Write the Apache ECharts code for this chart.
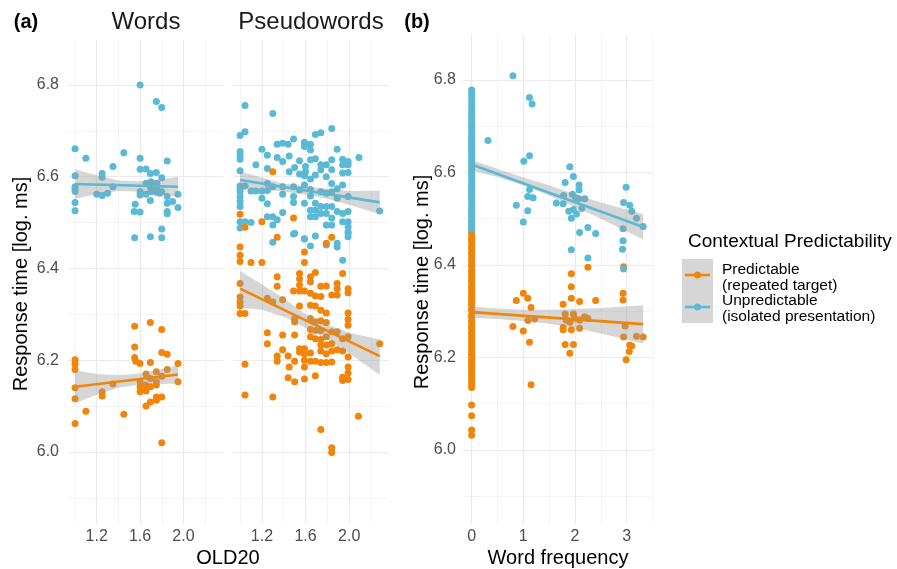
<!DOCTYPE html>
<html>
<head>
<meta charset="utf-8">
<script src="https://cdn.jsdelivr.net/npm/echarts@6/dist/echarts.min.js"></script>
<style>
html,body{margin:0;padding:0;background:#fff;}
#chart{width:897px;height:569px;}
</style>
</head>
<body>
<div id="chart"></div>
<script>
// ---------- DATA ----------
// Panel (a) Words: [OLD20, log RT]
const wordsPredictable = [[1.55,6.274],[1.695,6.282],[1.8,6.267],[1.55,6.229],[1.8,6.217],[1.85,6.213],[1.55,6.206],[1.56,6.198],[1.6,6.193],[1.695,6.195],[1.0,6.201],[1.0,6.191],[1.0,6.180],[1.95,6.193],[1.85,6.180],[1.75,6.175],[1.655,6.170],[1.695,6.160],[1.6,6.153],[1.6,6.142],[1.65,6.146],[1.0,6.140],[1.35,6.148],[1.25,6.131],[1.25,6.122],[1.95,6.153],[1.6,6.131],[1.655,6.133],[1.695,6.142],[1.75,6.146],[1.75,6.153],[1.8,6.165],[1.0,6.116],[1.10,6.089],[1.45,6.082],[1.655,6.100],[1.695,6.109],[1.75,6.113],[1.8,6.12],[1.75,6.12],[1.0,6.062],[1.8,6.020]];
const wordsUnpredictable = [[1.6,6.80],[1.75,6.764],[1.80,6.751],[1.0,6.661],[1.10,6.640],[1.45,6.652],[1.6,6.640],[1.85,6.634],[1.35,6.622],[1.6,6.616],[1.655,6.617],[1.695,6.607],[1.75,6.609],[1.0,6.602],[1.25,6.607],[1.25,6.599],[1.8,6.598],[1.0,6.578],[1.0,6.573],[1.0,6.568],[1.35,6.578],[1.2,6.562],[1.25,6.559],[1.3,6.564],[1.6,6.567],[1.6,6.560],[1.655,6.562],[1.695,6.578],[1.70,6.567],[1.75,6.566],[1.755,6.573],[1.78,6.564],[1.8,6.567],[1.85,6.557],[1.85,6.542],[1.9,6.546],[1.95,6.562],[1.95,6.533],[1.0,6.544],[1.0,6.526],[1.555,6.54],[1.545,6.524],[1.6,6.523],[1.695,6.548],[1.85,6.524],[1.85,6.519],[1.8,6.486],[1.55,6.467],[1.695,6.469],[1.8,6.467],[1.655,6.586],[1.70,6.589],[1.755,6.586],[1.72,6.575]];
// Panel (a) Pseudowords
const pseudoPredictable = [[1.30,6.611],[1.0,6.518],[1.2,6.502],[1.49,6.51],[1.045,6.49],[1.34,6.468],[1.84,6.468],[1.79,6.455],[1.0,6.447],[1.0,6.429],[1.0,6.415],[1.1,6.413],[1.2,6.413],[1.59,6.436],[1.59,6.413],[1.34,6.382],[1.34,6.361],[1.545,6.389],[1.545,6.377],[1.545,6.364],[1.645,6.382],[1.645,6.371],[1.69,6.391],[1.94,6.389],[1.89,6.367],[1.89,6.356],[1.0,6.367],[1.0,6.338],[1.0,6.327],[1.0,6.318],[1.0,6.302],[1.045,6.302],[1.49,6.351],[1.545,6.351],[1.59,6.351],[1.645,6.346],[1.69,6.340],[1.74,6.361],[1.79,6.362],[1.74,6.339],[1.84,6.342],[1.89,6.342],[1.99,6.356],[1.99,6.347],[1.25,6.335],[1.3,6.327],[1.39,6.332],[1.545,6.318],[1.645,6.32],[1.69,6.318],[1.74,6.309],[1.79,6.303],[1.99,6.303],[1.99,6.289],[1.99,6.276],[1.5,6.291],[1.5,6.284],[1.645,6.291],[1.69,6.284],[1.74,6.286],[1.79,6.282],[1.645,6.267],[1.69,6.265],[1.74,6.265],[1.25,6.26],[1.25,6.236],[1.39,6.255],[1.5,6.255],[1.645,6.251],[1.69,6.247],[1.74,6.245],[1.79,6.251],[1.84,6.262],[1.89,6.262],[1.94,6.247],[1.99,6.251],[1.74,6.233],[1.79,6.233],[1.84,6.236],[1.39,6.223],[1.545,6.225],[1.59,6.225],[1.545,6.218],[1.59,6.214],[1.645,6.216],[1.74,6.22],[1.79,6.214],[1.84,6.22],[1.89,6.223],[1.94,6.22],[1.34,6.209],[1.34,6.198],[1.44,6.209],[1.5,6.198],[1.59,6.2],[1.645,6.198],[1.69,6.198],[1.74,6.195],[1.79,6.195],[1.84,6.196],[1.99,6.207],[2.28,6.236],[1.045,6.191],[1.45,6.185],[1.59,6.185],[1.99,6.185],[1.99,6.172],[1.94,6.163],[1.99,6.158],[1.94,6.156],[1.44,6.162],[1.5,6.153],[1.59,6.159],[1.69,6.166],[1.045,6.124],[1.3,6.12],[2.085,6.078],[1.74,6.049],[1.84,6.009],[1.84,5.999]];
const pseudoUnpredictable = [[1.045,6.755],[1.30,6.738],[1.0,6.69],[1.045,6.698],[1.0,6.655],[1.0,6.646],[1.0,6.638],[1.0,6.613],[1.84,6.705],[1.69,6.692],[1.74,6.696],[1.34,6.671],[1.39,6.673],[1.44,6.671],[1.49,6.682],[1.59,6.675],[1.645,6.671],[1.59,6.666],[1.645,6.658],[1.2,6.66],[1.25,6.647],[1.45,6.645],[1.34,6.642],[1.39,6.633],[1.545,6.635],[1.645,6.637],[1.69,6.639],[1.89,6.66],[1.84,6.637],[1.94,6.638],[1.99,6.633],[1.99,6.626],[1.94,6.626],[2.09,6.642],[1.145,6.626],[1.25,6.618],[1.5,6.62],[1.45,6.611],[1.6,6.622],[1.6,6.611],[1.74,6.626],[1.79,6.626],[1.74,6.615],[1.84,6.615],[1.79,6.60],[1.94,6.608],[1.99,6.609],[1.545,6.606],[1.59,6.602],[1.645,6.595],[1.69,6.604],[1.0,6.58],[1.0,6.575],[1.0,6.568],[1.0,6.557],[1.0,6.546],[1.0,6.535],[1.045,6.58],[1.1,6.569],[1.145,6.569],[1.2,6.569],[1.25,6.585],[1.25,6.57],[1.3,6.578],[1.2,6.553],[1.25,6.541],[1.39,6.578],[1.39,6.562],[1.49,6.578],[1.49,6.557],[1.49,6.544],[1.59,6.582],[1.545,6.571],[1.645,6.572],[1.59,6.542],[1.645,6.558],[1.69,6.542],[1.74,6.567],[1.79,6.564],[1.84,6.585],[1.84,6.567],[1.89,6.574],[1.94,6.582],[1.89,6.553],[1.99,6.557],[1.0,6.502],[1.045,6.502],[1.1,6.5],[1.0,6.488],[1.25,6.513],[1.3,6.513],[1.34,6.506],[1.39,6.522],[1.3,6.495],[1.5,6.477],[1.59,6.464],[1.645,6.513],[1.69,6.513],[1.74,6.52],[1.79,6.52],[1.84,6.535],[1.645,6.527],[1.69,6.527],[1.74,6.535],[1.79,6.535],[1.84,6.51],[1.89,6.524],[1.94,6.52],[1.99,6.524],[1.94,6.502],[1.99,6.502],[1.99,6.491],[1.99,6.477],[1.79,6.495],[1.84,6.495],[2.28,6.525],[1.3,6.457],[1.49,6.475],[1.59,6.465],[1.645,6.449],[1.69,6.471],[1.79,6.451],[1.89,6.447],[1.89,6.455],[1.94,6.418],[1.99,6.469],[1.99,6.48]];
// Panel (b): [word frequency, log RT]
const freqZeroPredictableRT = [6.491,6.485,6.48,6.472,6.467,6.459,6.454,6.448,6.44,6.435,6.427,6.422,6.414,6.409,6.401,6.397,6.388,6.383,6.377,6.369,6.364,6.356,6.351,6.345,6.337,6.332,6.324,6.319,6.313,6.305,6.301,6.292,6.288,6.28,6.275,6.267,6.262,6.254,6.249,6.241,6.236,6.229,6.222,6.217,6.209,6.204,6.196,6.191,6.185,6.177,6.172,6.164,6.159,6.152,6.146,6.14,6.135,6.097,6.074,6.043,6.032];
const freqZeroUnpredictableRT = [6.778,6.771,6.764,6.756,6.747,6.739,6.73,6.724,6.716,6.71,6.702,6.697,6.689,6.683,6.676,6.671,6.663,6.658,6.65,6.645,6.637,6.632,6.625,6.619,6.611,6.606,6.599,6.593,6.586,6.581,6.573,6.568,6.56,6.555,6.547,6.542,6.535,6.529,6.521,6.516,6.509,6.503,6.496,6.49,6.483,6.477];
const freqPredictable = [[0.8,6.267],[0.865,6.323],[1.0,6.339],[1.086,6.328],[1.15,6.308],[1.0,6.257],[1.09,6.28],[1.22,6.283],[1.12,6.233],[1.15,6.141],[1.77,6.315],[1.93,6.328],[1.93,6.353],[1.93,6.381],[2.25,6.395],[2.09,6.321],[2.4,6.323],[1.81,6.294],[1.97,6.294],[1.83,6.281],[1.99,6.285],[2.09,6.281],[2.19,6.288],[2.25,6.284],[1.9,6.276],[2.09,6.263],[1.77,6.265],[1.77,6.26],[1.93,6.26],[1.81,6.228],[1.97,6.228],[1.9,6.209],[2.93,6.339],[2.93,6.324],[2.94,6.396],[2.97,6.268],[2.94,6.244],[3.06,6.227],[3.1,6.225],[3.05,6.213],[2.99,6.195],[3.19,6.246],[3.32,6.244]];
const freqUnpredictable = [[0.8,6.809],[0.316,6.669],[1.12,6.762],[1.17,6.748],[1.01,6.624],[1.12,6.636],[0.865,6.529],[1.0,6.493],[1.086,6.517],[1.086,6.548],[1.19,6.545],[1.12,6.563],[1.9,6.612],[1.97,6.591],[1.81,6.578],[2.08,6.573],[2.08,6.562],[1.78,6.55],[1.95,6.553],[2.01,6.546],[2.08,6.543],[2.19,6.543],[1.64,6.534],[1.77,6.532],[1.93,6.501],[1.88,6.516],[1.97,6.52],[2.03,6.51],[2.13,6.522],[2.09,6.47],[2.25,6.481],[2.4,6.468],[1.93,6.433],[2.25,6.415],[2.99,6.568],[2.94,6.535],[3.06,6.529],[3.1,6.516],[3.19,6.501],[3.32,6.483],[2.93,6.478],[2.93,6.452],[2.92,6.434],[2.94,6.391]];
// Linear fits: [x, fitted]
const wordsPredFit = [[1.0,6.142],[1.95,6.169]];
const wordsUnpredFit = [[1.0,6.584],[1.95,6.578]];
const pseudoPredFit = [[1.0,6.356],[2.28,6.209]];
const pseudoUnpredFit = [[1.0,6.593],[2.28,6.544]];
const freqPredFit = [[0,6.298],[3.32,6.272]];
const freqUnpredFit = [[0,6.617],[3.32,6.482]];
// Confidence bands: [x, lower, upper]
const wordsPredBand = [[1.0,6.106,6.178],[1.2,6.125,6.17],[1.4,6.14,6.167],[1.6,6.147,6.171],[1.8,6.148,6.181],[1.95,6.149,6.189]];
const wordsUnpredBand = [[1.0,6.552,6.616],[1.2,6.562,6.603],[1.4,6.569,6.592],[1.6,6.568,6.59],[1.8,6.562,6.594],[1.95,6.556,6.6]];
const pseudoPredBand = [[1.0,6.315,6.395],[1.2,6.31,6.365],[1.4,6.295,6.335],[1.6,6.271,6.3],[1.8,6.245,6.278],[2.0,6.215,6.26],[2.28,6.168,6.245]];
const pseudoUnpredBand = [[1.0,6.574,6.612],[1.2,6.573,6.598],[1.4,6.567,6.585],[1.6,6.561,6.579],[1.8,6.552,6.574],[2.0,6.539,6.569],[2.28,6.518,6.57]];
const freqPredBand = [[0,6.286,6.31],[0.5,6.283,6.306],[1.0,6.279,6.303],[1.5,6.273,6.303],[2.0,6.264,6.305],[2.5,6.252,6.307],[3.32,6.23,6.313]];
const freqUnpredBand = [[0,6.604,6.627],[0.5,6.59,6.608],[1.0,6.572,6.589],[1.5,6.55,6.572],[2.0,6.525,6.553],[2.5,6.5,6.535],[3.32,6.455,6.51]];
// Labels
const panelTitles = ['(a)', 'Words', 'Pseudowords', '(b)'];
const yTitle = 'Response time [log. ms]';
const xTitles = ['OLD20', 'Word frequency'];
const legendTitle = 'Contextual Predictability';
const legendLabels = [['Predictable', '(repeated target)'], ['Unpredictable', '(isolated presentation)']];

// ---------- STYLE ----------
const ORANGE = '#F0850A', BLUE = '#5AB9D4';
const FONT = "'Liberation Sans', Arial, sans-serif";
const BAND = 'rgba(153,153,153,0.4)';

const chart = echarts.init(document.getElementById('chart'), null, {renderer: 'canvas'});

function yAxisCfg(idx, showLabels, min, max) {
  return {
    type: 'value', gridIndex: idx, min: min, max: max,
    splitNumber: 5, minInterval: 0.2, maxInterval: 0.2,
    axisLine: {show: false}, axisTick: {show: false},
    axisLabel: {show: showLabels, color: '#4d4d4d', fontSize: 16, fontFamily: FONT,
      margin: idx === 2 ? 7 : 9, showMinLabel: false, showMaxLabel: false,
      formatter: v => v.toFixed(1)},
    splitLine: {show: true, showMinLine: false, showMaxLine: false, lineStyle: {color: '#ebebeb', width: 1.2}},
    minorTick: {show: false, splitNumber: 2},
    minorSplitLine: {show: true, lineStyle: {color: '#efefef', width: 0.7}}
  };
}
function xAxisCfg(idx, min, max, iv, fmt) {
  return {
    type: 'value', gridIndex: idx, min: min, max: max,
    splitNumber: 4, minInterval: iv, maxInterval: iv,
    axisLine: {show: false}, axisTick: {show: false},
    axisLabel: {color: '#4d4d4d', fontSize: 16, fontFamily: FONT, margin: 5,
      showMinLabel: false, showMaxLabel: false, formatter: fmt},
    splitLine: {show: true, showMinLine: false, showMaxLine: false, lineStyle: {color: '#ebebeb', width: 1.2}},
    minorTick: {show: false, splitNumber: 2},
    minorSplitLine: {show: true, lineStyle: {color: '#efefef', width: 0.7}}
  };
}
function scatter(idx, data, color) {
  return {type: 'scatter', xAxisIndex: idx, yAxisIndex: idx, data: data, symbolSize: 7,
    itemStyle: {color: color, opacity: 1}, z: 2, silent: true};
}
function band(idx, rows) {
  return {type: 'custom', xAxisIndex: idx, yAxisIndex: idx, data: rows, z: 3, silent: true,
    encode: {x: 0, y: [1, 2]},
    renderItem: function (params, api) {
      if (params.dataIndex !== 0) return null;
      const pts = [];
      rows.forEach(r => pts.push(api.coord([r[0], r[2]])));
      for (let i = rows.length - 1; i >= 0; i--) pts.push(api.coord([rows[i][0], rows[i][1]]));
      return {type: 'polygon', shape: {points: pts}, style: {fill: BAND}};
    }};
}
function fit(idx, data, color) {
  return {type: 'line', xAxisIndex: idx, yAxisIndex: idx, data: data, symbol: 'none', z: 4,
    silent: true, lineStyle: {color: color, width: 2.6}};
}

const freqZeroPred = freqZeroPredictableRT.map(v => [0, v]);
const freqZeroUnpred = freqZeroUnpredictableRT.map(v => [0, v]);

const option = {
  animation: false,
  backgroundColor: '#ffffff',
  grid: [
    {left: 68, top: 40, width: 155, height: 484},
    {left: 233, top: 40, width: 156, height: 484},
    {left: 463, top: 35, width: 190, height: 489}
  ],
  xAxis: [
    xAxisCfg(0, 0.935, 2.365, 0.4, v => v.toFixed(1)),
    xAxisCfg(1, 0.935, 2.365, 0.4, v => v.toFixed(1)),
    xAxisCfg(2, -0.167, 3.51, 1, v => String(Math.round(v) === 0 ? 0 : Math.round(v)))
  ],
  yAxis: [yAxisCfg(0, true, 5.843, 6.898), yAxisCfg(1, false, 5.843, 6.898), yAxisCfg(2, true, 5.84, 6.897)],
  series: [
    scatter(0, wordsUnpredictable, BLUE), scatter(0, wordsPredictable, ORANGE),
    band(0, wordsUnpredBand), band(0, wordsPredBand),
    fit(0, wordsUnpredFit, BLUE), fit(0, wordsPredFit, ORANGE),

    scatter(1, pseudoUnpredictable, BLUE), scatter(1, pseudoPredictable, ORANGE),
    band(1, pseudoUnpredBand), band(1, pseudoPredBand),
    fit(1, pseudoUnpredFit, BLUE), fit(1, pseudoPredFit, ORANGE),

    scatter(2, freqZeroPred, ORANGE), scatter(2, freqPredictable, ORANGE),
    scatter(2, freqZeroUnpred, BLUE), scatter(2, freqUnpredictable, BLUE),
    band(2, freqUnpredBand), band(2, freqPredBand),
    fit(2, freqUnpredFit, BLUE), fit(2, freqPredFit, ORANGE)
  ],
  graphic: [
    {type: 'text', x: 26, y: 22, style: {text: panelTitles[0], font: 'bold 20px ' + FONT, fill: '#000', align: 'center', verticalAlign: 'middle'}},
    {type: 'text', x: 146, y: 22, style: {text: panelTitles[1], font: '24px ' + FONT, fill: '#1a1a1a', align: 'center', verticalAlign: 'middle'}},
    {type: 'text', x: 311, y: 22, style: {text: panelTitles[2], font: '24px ' + FONT, fill: '#1a1a1a', align: 'center', verticalAlign: 'middle'}},
    {type: 'text', x: 417, y: 22, style: {text: panelTitles[3], font: 'bold 20px ' + FONT, fill: '#000', align: 'center', verticalAlign: 'middle'}},
    {type: 'text', x: 21, y: 284, rotation: Math.PI / 2, style: {text: yTitle, font: '20px ' + FONT, fill: '#000', align: 'center', verticalAlign: 'middle'}},
    {type: 'text', x: 422, y: 282, rotation: Math.PI / 2, style: {text: yTitle, font: '20px ' + FONT, fill: '#000', align: 'center', verticalAlign: 'middle'}},
    {type: 'text', x: 228, y: 558, style: {text: xTitles[0], font: '20px ' + FONT, fill: '#000', align: 'center', verticalAlign: 'middle'}},
    {type: 'text', x: 558, y: 558, style: {text: xTitles[1], font: '20px ' + FONT, fill: '#000', align: 'center', verticalAlign: 'middle'}},
    // legend
    {type: 'text', x: 688, y: 242, style: {text: legendTitle, font: '19px ' + FONT, fill: '#000', align: 'left', verticalAlign: 'middle'}},
    {type: 'rect', shape: {x: 682, y: 259, width: 31, height: 64}, style: {fill: '#d6d6d6'}},
    {type: 'line', shape: {x1: 685, y1: 275, x2: 710, y2: 275}, style: {stroke: ORANGE, lineWidth: 2.6}},
    {type: 'circle', shape: {cx: 697.5, cy: 275, r: 3.5}, style: {fill: ORANGE}},
    {type: 'line', shape: {x1: 685, y1: 307, x2: 710, y2: 307}, style: {stroke: BLUE, lineWidth: 2.6}},
    {type: 'circle', shape: {cx: 697.5, cy: 307, r: 3.5}, style: {fill: BLUE}},
    {type: 'text', x: 722, y: 270, style: {text: legendLabels[0][0], font: '15.5px ' + FONT, fill: '#000', align: 'left', verticalAlign: 'middle'}},
    {type: 'text', x: 722, y: 286, style: {text: legendLabels[0][1], font: '15.5px ' + FONT, fill: '#000', align: 'left', verticalAlign: 'middle'}},
    {type: 'text', x: 722, y: 301, style: {text: legendLabels[1][0], font: '15.5px ' + FONT, fill: '#000', align: 'left', verticalAlign: 'middle'}},
    {type: 'text', x: 722, y: 317, style: {text: legendLabels[1][1], font: '15.5px ' + FONT, fill: '#000', align: 'left', verticalAlign: 'middle'}}
  ]
};
chart.setOption(option);
</script>
</body>
</html>
